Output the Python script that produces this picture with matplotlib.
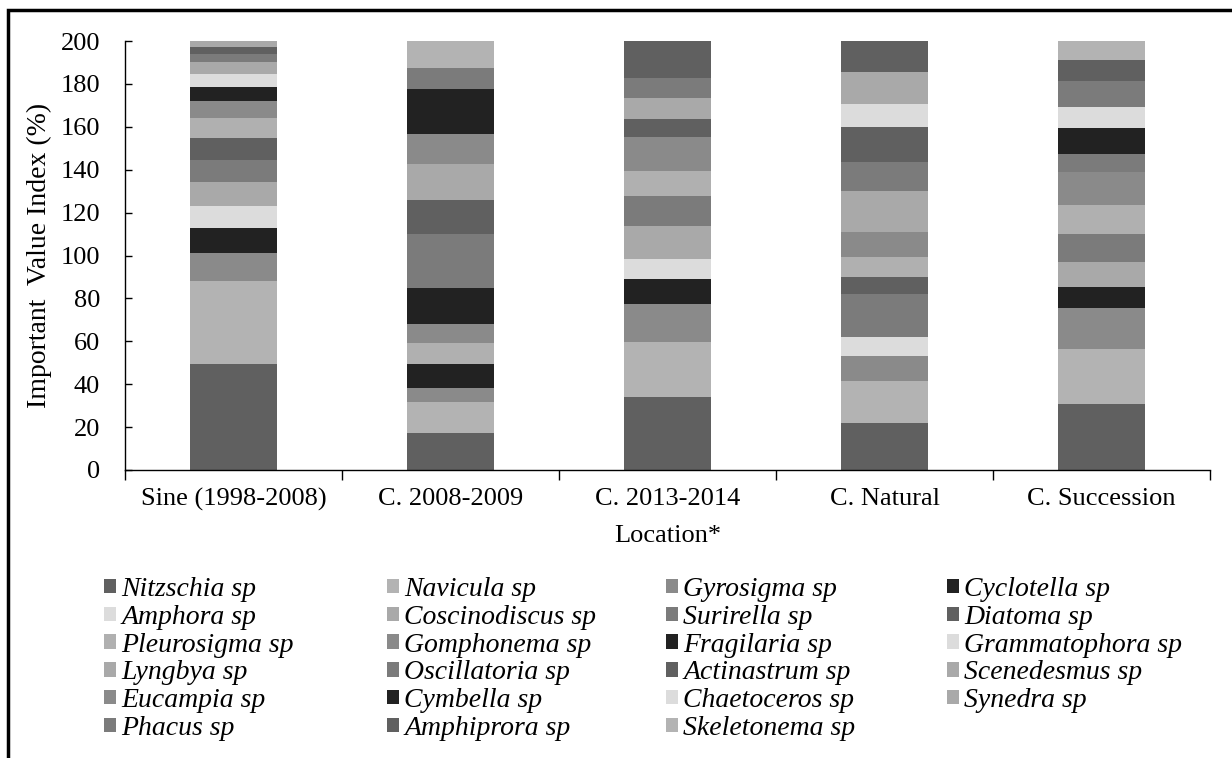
import numpy as np
import matplotlib
matplotlib.use('Agg')
import matplotlib.pyplot as plt
from matplotlib.patches import Patch, Rectangle

plt.rcParams['font.family'] = ['Liberation Serif', 'DejaVu Serif']

locations = ['Sine (1998-2008)', 'C. 2008-2009', 'C. 2013-2014', 'C. Natural', 'C. Succession']

species = ['Nitzschia sp', 'Navicula sp', 'Gyrosigma sp', 'Cyclotella sp',
           'Amphora sp', 'Coscinodiscus sp', 'Surirella sp', 'Diatoma sp',
           'Pleurosigma sp', 'Gomphonema sp', 'Fragilaria sp', 'Grammatophora sp',
           'Lyngbya sp', 'Oscillatoria sp', 'Actinastrum sp', 'Scenedesmus sp',
           'Eucampia sp', 'Cymbella sp', 'Chaetoceros sp', 'Synedra sp',
           'Phacus sp', 'Amphiprora sp', 'Skeletonema sp']

# IVI (%) per species, one value per location
nitzschia     = [49.3, 17.1, 34.2, 22.1, 30.6]
navicula      = [39.0, 14.8, 25.3, 19.4, 25.8]
gyrosigma     = [13.0, 6.2, 17.9, 11.8, 19.3]
cyclotella    = [11.4, 11.2, 11.5, 0.0, 9.5]
amphora       = [10.5, 0.0, 9.3, 8.5, 0.0]
coscinodiscus = [10.9, 0.0, 15.7, 0.0, 11.9]
surirella     = [10.4, 0.0, 13.8, 20.3, 12.8]
diatoma       = [10.1, 0.0, 0.0, 7.7, 0.0]
pleurosigma   = [9.4, 9.8, 11.8, 9.7, 13.6]
gomphonema    = [8.0, 8.8, 15.6, 11.3, 15.6]
fragilaria    = [6.4, 16.8, 0.0, 0.0, 0.0]
grammatophora = [6.1, 0.0, 0.0, 0.0, 0.0]
lyngbya       = [5.9, 0.0, 0.0, 19.4, 0.0]
oscillatoria  = [3.5, 25.2, 0.0, 13.5, 8.2]
actinastrum   = [3.1, 16.0, 8.4, 16.0, 0.0]
scenedesmus   = [3.0, 16.8, 10.1, 0.0, 0.0]
eucampia      = [0.0, 13.8, 0.0, 0.0, 0.0]
cymbella      = [0.0, 21.0, 0.0, 0.0, 12.0]
chaetoceros   = [0.0, 0.0, 0.0, 10.9, 10.1]
synedra       = [0.0, 0.0, 0.0, 15.1, 0.0]
phacus        = [0.0, 10.1, 9.0, 0.0, 12.1]
amphiprora    = [0.0, 0.0, 17.4, 14.3, 9.6]
skeletonema   = [0.0, 12.4, 0.0, 0.0, 8.9]

values = [nitzschia, navicula, gyrosigma, cyclotella, amphora, coscinodiscus,
          surirella, diatoma, pleurosigma, gomphonema, fragilaria, grammatophora,
          lyngbya, oscillatoria, actinastrum, scenedesmus, eucampia, cymbella,
          chaetoceros, synedra, phacus, amphiprora, skeletonema]

dark, light, lt2, med, med2, blk, vlt = '#606060', '#b3b3b3', '#a9a9a9', '#8a8a8a', '#7b7b7b', '#222222', '#dcdcdc'
colors = [dark, light, med, blk, vlt, lt2, med2, dark, '#b0b0b0', med, blk, vlt,
          lt2, med2, dark, lt2, med, blk, vlt, lt2, med2, dark, light]

W, H = 1232, 758
fig = plt.figure(figsize=(W / 100, H / 100), dpi=100)
ax = fig.add_axes([125 / W, 1 - 470 / H, (1210 - 125) / W, (470 - 41) / H])

x = np.arange(len(locations))
bottom = np.zeros(len(locations))
handles = []
for name, vals, c in zip(species, values, colors):
    v = np.array(vals)
    ax.bar(x, v, 0.4, bottom=bottom, color=c, edgecolor='none')
    bottom += v
    handles.append(Patch(facecolor=c, edgecolor='none', label=name))

ax.set_xlim(-0.5, len(locations) - 0.5)
ax.set_ylim(0, 200)
ax.set_yticks(np.arange(0, 201, 20))
ax.set_xticks(x)
ax.set_xticklabels(locations)
ax.set_xticks(np.arange(-0.5, len(locations), 1), minor=True)
ax.tick_params(axis='x', which='major', length=0, labelsize=19, pad=13)
ax.tick_params(axis='x', which='minor', length=7, width=1, direction='out')
ax.tick_params(axis='y', length=5, width=1, direction='in', labelsize=19, pad=18)
for s in ['top', 'right']:
    ax.spines[s].set_visible(False)
for s in ['left', 'bottom']:
    ax.spines[s].set_linewidth(1)
ax.set_ylabel('Important  Value Index (%)', fontsize=20, labelpad=6)
ax.set_xlabel('Location*', fontsize=19, labelpad=10)

# legend: 4 equal-width columns, filled row by row
col_x = [104, 387, 666, 947]
for j in range(4):
    fig.legend(handles=handles[j::4], loc='upper left',
               bbox_to_anchor=(col_x[j] / W, 1 - 577 / H), ncol=1,
               frameon=False, prop={'style': 'italic', 'size': 20},
               handlelength=0.42, handleheight=0.42, handletextpad=0.2,
               labelspacing=0.1, borderpad=0, borderaxespad=0)

fig.add_artist(Rectangle((8 / W, -0.1), 1.2, 1 - 10 / H + 0.1,
                         transform=fig.transFigure, fill=False,
                         edgecolor='black', linewidth=2.5))

fig.savefig('out.png', dpi=100)
